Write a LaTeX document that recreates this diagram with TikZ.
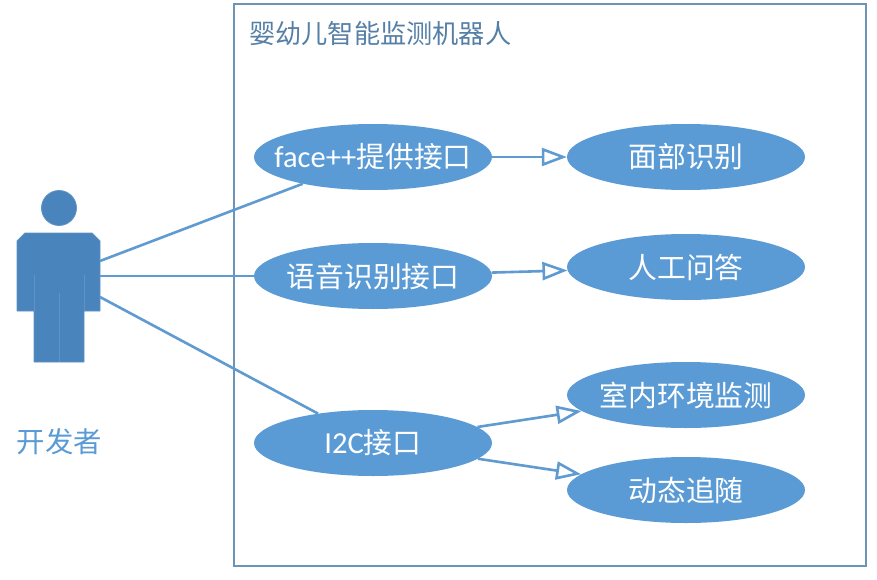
\documentclass[tikz,border=0pt]{standalone}
\usepackage{fontspec}
\setmainfont{Noto Sans CJK SC}
\newfontfamily\lat[Scale=1.06]{Carlito}
\usetikzlibrary{arrows.meta,shapes.geometric}
\definecolor{ublue}{HTML}{5B9BD5}
\definecolor{ubody}{HTML}{4A84BC}
\definecolor{uedge}{HTML}{5F94C4}
\definecolor{uline}{HTML}{5F9AD0}
\definecolor{ubox}{HTML}{6C94B6}
\definecolor{utitle}{HTML}{557FA6}
\tikzset{
  x=1pt,y=-1pt,
  usecase/.style={ellipse,fill=ublue,inner xsep=-30pt,inner ysep=-15pt,minimum width=238pt,minimum height=66pt,text=white,font=\fontsize{28.8}{32}\selectfont},
  link/.style={uline,line width=2.6pt},
  gen/.style={uline,line width=2.6pt,-{Triangle[open,length=25pt,width=18pt,fill=white]}},
  actorshape/.style={fill=ubody,draw=uedge,line width=.8pt,line join=round},
  actorline/.style={uedge,line width=1pt},
}
\begin{document}
\begin{tikzpicture}
\useasboundingbox (0,0) rectangle (877,580);
\fill[white] (0,0) rectangle (877,580);
\node[draw=ubox,line width=1.5pt,inner sep=0pt,minimum width=632pt,minimum height=562pt] (sys) at (550,285) {};
\node[anchor=west,text=utitle,font=\fontsize{26.2}{30}\selectfont,inner sep=0pt] (title) at (249,34) {婴幼儿智能监测机器人};
% actor
\node[circle,actorshape,minimum size=35pt,inner sep=0pt] (head) at (59,208) {};
\fill[actorshape] (25,233) -- (92,233) -- (100,241) -- (100,311) -- (84,311) -- (84,362) -- (34,362) -- (34,311) -- (17,311) -- (17,241) -- cycle;
\draw[actorline] (34,275) -- (34,311) (84,275) -- (84,311) (59,293) -- (59,362);
\coordinate (a1) at (100,261);
\coordinate (a2) at (100,276);
\coordinate (a3) at (100,297);
\node[text=ublue,font=\fontsize{28.4}{32}\selectfont,inner sep=0pt] (actorname) at (59.5,442) {开发者};
% use cases
\node[usecase] (e1) at (373,157) {{\lat face++}提供接口};
\node[usecase] (e2) at (373,276) {语音识别接口};
\node[usecase] (e3) at (373,443) {{\lat I2C}接口};
\node[usecase] (r1) at (686,157) {面部识别};
\node[usecase] (r2) at (686,267) {人工问答};
\node[usecase] (r3) at (686,395) {室内环境监测};
\node[usecase] (r4) at (686,490) {动态追随};
% connectors
\draw[link] (a1) -- (e1);
\draw[link] (a2) -- (e2);
\draw[link] (a3) -- (e3);
\draw[gen] (e1) -- (r1);
\draw[gen] (e2) -- (r2);
\draw[gen] (e3) -- (r3);
\draw[gen] (e3) -- (r4);
\end{tikzpicture}
\end{document}
